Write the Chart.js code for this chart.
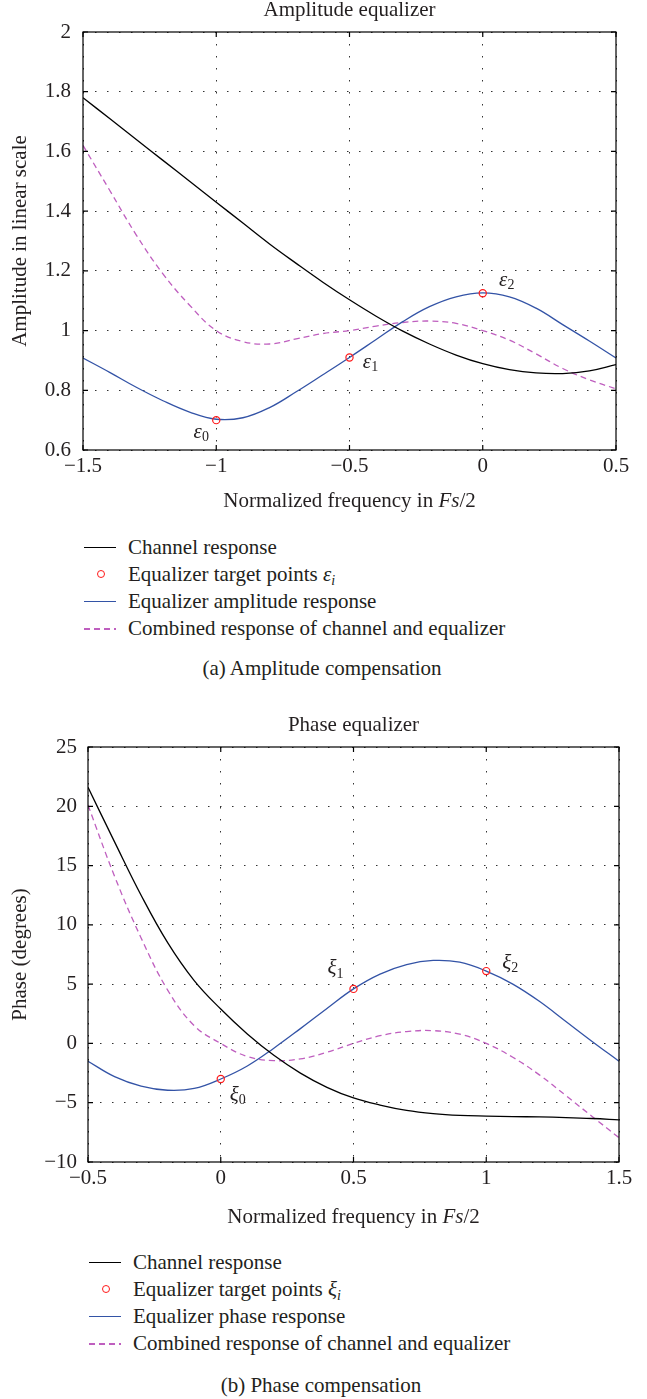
<!DOCTYPE html>
<html>
<head>
<meta charset="utf-8">
<script src="https://cdn.jsdelivr.net/npm/chart.js@4.4.1/dist/chart.umd.min.js"></script>
<style>
  html, body { margin: 0; padding: 0; background: #fff; }
  body { width: 647px; height: 1399px; position: relative; overflow: hidden;
         font-family: 'Liberation Serif', 'Times New Roman', serif; color: #231f20; }
  canvas { position: absolute; left: 0; }
  .txt { position: absolute; font-size: 21px; white-space: nowrap; transform: translate(-50%, -50%); }
  .row { position: absolute; height: 27px; line-height: 27px; font-size: 21px; white-space: nowrap; }
  .row span.lbl { position: absolute; top: 0; }
  .sample { position: absolute; top: 13px; width: 32px; height: 0; }
  .solid-k { border-top: 1.3px solid #000; }
  .solid-b { border-top: 1.3px solid #3353a6; }
  .dash-m { height: 1.3px; top: 13px; background: repeating-linear-gradient(to right, #bf5fbf 0 6px, transparent 6px 10px); }
  .ring { position: absolute; top: 9.5px; width: 6px; height: 6px; border: 1.2px solid #ff1a1a; border-radius: 50%; }
  sub { font-size: 14px; vertical-align: -4px; line-height: 0; }
</style>
</head>
<body>
<canvas id="amp" width="647" height="520" style="top:0"></canvas>
<canvas id="phase" width="647" height="517" style="top:715px"></canvas>

<div class="txt" style="left:349.5px;top:500px">Normalized frequency in <i>Fs</i>/2</div>
<div id="legend-amp"></div>
<div class="txt" style="left:322px;top:668px">(a) Amplitude compensation</div>

<div class="txt" style="left:353.5px;top:1216px">Normalized frequency in <i>Fs</i>/2</div>
<div id="legend-phase"></div>
<div class="txt" style="left:321px;top:1385px">(b) Phase compensation</div>

<script>
// ---- amplitude equalizer data (normalized frequency in Fs/2) ----
const freqA = [-1.5, -1.4, -1.3, -1.2, -1.1, -1.0, -0.9, -0.8, -0.7, -0.6, -0.5,
               -0.4, -0.3, -0.2, -0.1, 0.0, 0.1, 0.2, 0.3, 0.4, 0.5];
const channelA = [1.78, 1.71, 1.64, 1.57, 1.50, 1.43, 1.36, 1.29, 1.225, 1.162, 1.103,
                  1.048, 0.998, 0.955, 0.918, 0.889, 0.869, 0.858, 0.856, 0.865, 0.886];
const equalizerA = [0.908, 0.86, 0.81, 0.765, 0.727, 0.703, 0.708, 0.742, 0.795, 0.852, 0.91,
                    0.97, 1.03, 1.08, 1.113, 1.126, 1.113, 1.075, 1.02, 0.965, 0.908];
const combinedA = [1.62, 1.47, 1.32, 1.19, 1.085, 1.0, 0.963, 0.955, 0.972, 0.99, 1.0,
                   1.015, 1.027, 1.032, 1.024, 1.0, 0.968, 0.922, 0.873, 0.835, 0.805];
const targetXA = [-1.0, -0.5, 0.0];
const targetYA = [0.70, 0.91, 1.125];
const targetSubA = ['0', '1', '2'];
const xTicksA = [-1.5, -1.0, -0.5, 0.0, 0.5];
const yTicksA = [0.6, 0.8, 1.0, 1.2, 1.4, 1.6, 1.8, 2.0];

// ---- phase equalizer data ----
const freqB = [-0.5, -0.4, -0.3, -0.2, -0.1, 0.0, 0.1, 0.2, 0.3, 0.4, 0.5,
               0.6, 0.7, 0.8, 0.9, 1.0, 1.1, 1.2, 1.3, 1.4, 1.5];
const channelB = [21.6, 17.0, 12.5, 8.5, 5.3, 2.9, 0.8, -1.0, -2.5, -3.7, -4.6,
                  -5.2, -5.65, -5.92, -6.07, -6.13, -6.17, -6.2, -6.25, -6.33, -6.45];
const equalizerB = [-1.5, -2.8, -3.6, -3.95, -3.8, -3.0, -1.9, -0.4, 1.25, 2.95, 4.6,
                    5.85, 6.65, 7.0, 6.85, 6.1, 5.0, 3.55, 1.85, 0.15, -1.5];
const combinedB = [20.1, 14.1, 8.9, 4.5, 1.5, 0.0, -1.1, -1.45, -1.3, -0.75, 0.0,
                   0.65, 1.0, 1.08, 0.78, 0.0, -1.17, -2.65, -4.4, -6.18, -7.95];
const targetXB = [0.0, 0.5, 1.0];
const targetYB = [-3.0, 4.6, 6.1];
const targetSubB = ['0', '1', '2'];
const xTicksB = [-0.5, 0.0, 0.5, 1.0, 1.5];
const yTicksB = [-10, -5, 0, 5, 10, 15, 20, 25];

const FONT = "'Liberation Serif', 'Times New Roman', serif";
const INK = '#231f20';
const BLUE = '#3353a6';
const MAGENTA = '#bf5fbf';
const RED = '#ff1a1a';

const fmt = v => String(Math.round(v * 10) / 10).replace('-', '\u2212');
const pts = (xs, ys) => xs.map((x, i) => ({ x, y: ys[i] }));

// frame, inward tick marks and the epsilon / xi labels next to the target points
const framePlugin = {
  id: 'frame',
  afterDraw(chart, args, opts) {
    const { ctx, chartArea: a, scales: { x, y } } = chart;
    ctx.save();
    ctx.strokeStyle = '#000';
    ctx.lineWidth = 1.2;
    ctx.strokeRect(a.left, a.top, a.right - a.left, a.bottom - a.top);
    ctx.beginPath();
    opts.xTicks.forEach(v => {
      const px = x.getPixelForValue(v);
      ctx.moveTo(px, a.bottom); ctx.lineTo(px, a.bottom - 5);
      ctx.moveTo(px, a.top); ctx.lineTo(px, a.top + 5);
    });
    opts.yTicks.forEach(v => {
      const py = y.getPixelForValue(v);
      ctx.moveTo(a.left, py); ctx.lineTo(a.left + 5, py);
      ctx.moveTo(a.right, py); ctx.lineTo(a.right - 5, py);
    });
    ctx.stroke();

    ctx.fillStyle = INK;
    ctx.textBaseline = 'middle';
    ctx.textAlign = 'left';
    opts.xs.forEach((xv, i) => {
      const [dx, dy] = opts.offsets[i];
      const cx = x.getPixelForValue(xv) + dx;
      const cy = y.getPixelForValue(opts.ys[i]) + dy;
      ctx.font = `italic 21px ${FONT}`;
      const w1 = ctx.measureText(opts.greek).width;
      ctx.font = `14px ${FONT}`;
      const w2 = ctx.measureText(opts.subs[i]).width;
      const x0 = cx - (w1 + w2) / 2;
      ctx.font = `italic 21px ${FONT}`;
      ctx.fillText(opts.greek, x0, cy);
      ctx.font = `14px ${FONT}`;
      ctx.fillText(opts.subs[i], x0 + w1, cy + 5);
    });
    ctx.restore();
  }
};

function makeChart(id, cfg) {
  const curve = { pointRadius: 0, borderWidth: 1.3, tension: 0.4, fill: false };
  return new Chart(document.getElementById(id), {
    type: 'line',
    data: {
      datasets: [
        {
          label: 'Equalizer target points',
          data: pts(cfg.tx, cfg.ty),
          showLine: false,
          pointStyle: 'circle',
          pointRadius: 3.6,
          pointBorderWidth: 1.2,
          pointBorderColor: RED,
          pointBackgroundColor: 'rgba(0,0,0,0)'
        },
        { ...curve, label: 'Channel response', data: pts(cfg.freq, cfg.channel), borderColor: '#000' },
        { ...curve, label: cfg.eqLabel, data: pts(cfg.freq, cfg.equalizer), borderColor: BLUE },
        {
          ...curve,
          label: 'Combined response of channel and equalizer',
          data: pts(cfg.freq, cfg.combined),
          borderColor: MAGENTA,
          borderDash: [6, 4]
        }
      ]
    },
    options: {
      responsive: false,
      animation: false,
      events: [],
      layout: { padding: { left: 0, right: cfg.padRight, top: 0, bottom: 0 } },
      scales: {
        x: {
          type: 'linear',
          min: cfg.xTicks[0],
          max: cfg.xTicks[cfg.xTicks.length - 1],
          afterBuildTicks: s => { s.ticks = cfg.xTicks.map(value => ({ value })); },
          afterFit: s => { s.height = cfg.xHeight; },
          ticks: { padding: 4, color: INK, font: { family: FONT, size: 21 },
                   maxRotation: 0, autoSkip: false, callback: fmt },
          grid: { color: '#333', lineWidth: 1, drawTicks: false },
          border: { display: false, dash: [1.5, 10.5] }
        },
        y: {
          type: 'linear',
          min: cfg.yTicks[0],
          max: cfg.yTicks[cfg.yTicks.length - 1],
          afterBuildTicks: s => { s.ticks = cfg.yTicks.map(value => ({ value })); },
          afterFit: s => { s.width = cfg.yWidth; },
          ticks: { padding: cfg.yPad, color: INK, font: { family: FONT, size: 21 },
                   autoSkip: false, callback: fmt },
          grid: { color: '#333', lineWidth: 1, drawTicks: false },
          border: { display: false, dash: [1.5, 10.5] },
          title: { display: true, text: cfg.yTitle, color: INK,
                   font: { family: FONT, size: 21, lineHeight: 1.2 },
                   padding: { top: 8, bottom: 0 } }
        }
      },
      plugins: {
        legend: { display: false },
        tooltip: { enabled: false },
        title: {
          display: true,
          text: cfg.title,
          fullSize: false,
          color: INK,
          font: { family: FONT, size: 21, weight: 'normal', lineHeight: 1 },
          padding: { top: 0, bottom: 11 }
        },
        frame: {
          xTicks: cfg.xTicks, yTicks: cfg.yTicks,
          xs: cfg.tx, ys: cfg.ty, subs: cfg.subs,
          greek: cfg.greek, offsets: cfg.offsets
        }
      }
    },
    plugins: [framePlugin]
  });
}

makeChart('amp', {
  title: 'Amplitude equalizer',
  yTitle: 'Amplitude in linear scale',
  eqLabel: 'Equalizer amplitude response',
  freq: freqA, channel: channelA, equalizer: equalizerA, combined: combinedA,
  tx: targetXA, ty: targetYA, subs: targetSubA, greek: '\u03b5',
  offsets: [[-15, 12], [21, 5], [24, -13]],
  xTicks: xTicksA, yTicks: yTicksA,
  yWidth: 83, yPad: 12, xHeight: 70, padRight: 31
});

makeChart('phase', {
  title: 'Phase equalizer',
  yTitle: 'Phase (degrees)',
  eqLabel: 'Equalizer phase response',
  freq: freqB, channel: channelB, equalizer: equalizerB, combined: combinedB,
  tx: targetXB, ty: targetYB, subs: targetSubB, greek: '\u03be',
  offsets: [[17, 16], [-18, -20], [24, -8]],
  xTicks: xTicksB, yTicks: yTicksB,
  yWidth: 88, yPad: 11, xHeight: 70, padRight: 28
});

// legends below each panel
function legend(id, top, left, sym, eqText) {
  const items = [
    ['solid-k', 'Channel response'],
    ['ring', `Equalizer target points <i>${sym}<sub>i</sub></i>`],
    ['solid-b', eqText],
    ['dash-m', 'Combined response of channel and equalizer']
  ];
  const host = document.getElementById(id);
  host.innerHTML = items.map(([cls, text], i) => {
    const y = top + i * 27.3 - 13.5;
    const mark = cls === 'ring'
      ? `<span class="ring" style="left:${left + 13}px"></span>`
      : `<span class="sample ${cls}" style="left:${left}px"></span>`;
    return `<div class="row" style="top:${y}px;left:0">${mark}<span class="lbl" style="left:${left + 44}px">${text}</span></div>`;
  }).join('');
}
legend('legend-amp', 547, 84, '\u03b5', 'Equalizer amplitude response');
legend('legend-phase', 1262, 89, '\u03be', 'Equalizer phase response');
</script>
</body>
</html>
